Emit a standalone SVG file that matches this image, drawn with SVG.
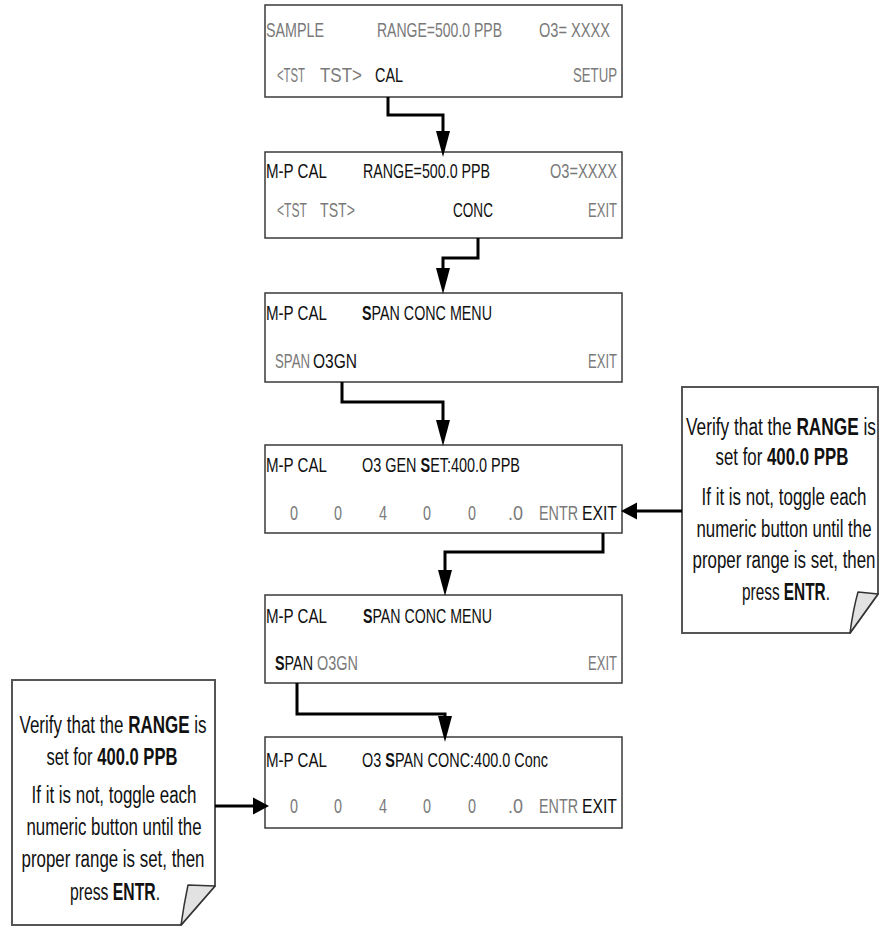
<svg xmlns="http://www.w3.org/2000/svg" width="879" height="927" viewBox="0 0 879 927">
<style>
  .scr { fill: #ffffff; stroke: #3a3a3a; stroke-width: 1.5; }
  .note { fill: #ffffff; stroke: #555555; stroke-width: 2; }
  .flap { fill: #e2e2e2; stroke: #333333; stroke-width: 1.5; stroke-linejoin: round; }
  text { font-family: "Liberation Sans", Arial, sans-serif; }
  .t { font-size: 21px; }
  .g { fill: #7a7a7a; }
  .k { fill: #111111; }
  .n { font-size: 23px; fill: #111111; text-anchor: middle; }
  .b { font-weight: bold; }
  .conn { fill: none; stroke: #000000; stroke-width: 3; stroke-linejoin: miter; }
</style>
<defs>
  <marker id="arrV" markerUnits="userSpaceOnUse" markerWidth="28" markerHeight="16" refX="0" refY="7" orient="auto" viewBox="0 0 28 14">
    <path d="M0,0 L26,7 L0,14 Z" fill="#000"/>
  </marker>
  <marker id="arrH" markerUnits="userSpaceOnUse" markerWidth="18" markerHeight="18" refX="0" refY="8.5" orient="auto" viewBox="0 0 18 17">
    <path d="M0,0 L16,8.5 L0,17 Z" fill="#000"/>
  </marker>
</defs>

<g id="screen-sample">
  <rect class="scr" x="265" y="5" width="357" height="92"/>
  <text class="t g" x="266" y="37" textLength="58" lengthAdjust="spacingAndGlyphs">SAMPLE</text>
  <text class="t g" x="377" y="37" textLength="125" lengthAdjust="spacingAndGlyphs">RANGE=500.0 PPB</text>
  <text class="t g" x="539" y="37" textLength="71" lengthAdjust="spacingAndGlyphs">O3= XXXX</text>
  <text class="t g" x="277" y="82" textLength="28" lengthAdjust="spacingAndGlyphs">&lt;TST</text>
  <text class="t g" x="320" y="82" textLength="42" lengthAdjust="spacingAndGlyphs">TST&gt;</text>
  <text class="t k" x="375" y="82" textLength="28" lengthAdjust="spacingAndGlyphs">CAL</text>
  <text class="t g" x="573" y="82" textLength="44" lengthAdjust="spacingAndGlyphs">SETUP</text>
</g>

<g id="screen-mpcal-range">
  <rect class="scr" x="265" y="152" width="357" height="86"/>
  <text class="t k" x="266" y="178" textLength="61" lengthAdjust="spacingAndGlyphs">M-P CAL</text>
  <text class="t k" x="363" y="178" textLength="127" lengthAdjust="spacingAndGlyphs">RANGE=500.0 PPB</text>
  <text class="t g" x="550" y="178" textLength="67" lengthAdjust="spacingAndGlyphs">O3=XXXX</text>
  <text class="t g" x="277" y="217" textLength="30" lengthAdjust="spacingAndGlyphs">&lt;TST</text>
  <text class="t g" x="320" y="217" textLength="35" lengthAdjust="spacingAndGlyphs">TST&gt;</text>
  <text class="t k" x="453" y="217" textLength="40" lengthAdjust="spacingAndGlyphs">CONC</text>
  <text class="t g" x="588" y="217" textLength="29" lengthAdjust="spacingAndGlyphs">EXIT</text>
</g>

<g id="screen-span-menu-1">
  <rect class="scr" x="265" y="293" width="357" height="89"/>
  <text class="t k" x="266" y="320" textLength="61" lengthAdjust="spacingAndGlyphs">M-P CAL</text>
  <text class="t k" x="362" y="320" textLength="130" lengthAdjust="spacingAndGlyphs"><tspan class="b">S</tspan>PAN CONC MENU</text>
  <text class="t g" x="275" y="368" textLength="35" lengthAdjust="spacingAndGlyphs">SPAN</text>
  <text class="t k" x="313" y="368" textLength="44" lengthAdjust="spacingAndGlyphs">O3GN</text>
  <text class="t g" x="588" y="368" textLength="29" lengthAdjust="spacingAndGlyphs">EXIT</text>
</g>

<g id="screen-o3-gen-set">
  <rect class="scr" x="265" y="445" width="357" height="88"/>
  <text class="t k" x="266" y="472" textLength="61" lengthAdjust="spacingAndGlyphs">M-P CAL</text>
  <text class="t k" x="362" y="472" textLength="158" lengthAdjust="spacingAndGlyphs">O3 GEN <tspan class="b">S</tspan>ET:400.0 PPB</text>
  <text class="t g" x="290" y="520" textLength="8" lengthAdjust="spacingAndGlyphs">0</text>
  <text class="t g" x="334" y="520" textLength="8" lengthAdjust="spacingAndGlyphs">0</text>
  <text class="t g" x="379" y="520" textLength="8" lengthAdjust="spacingAndGlyphs">4</text>
  <text class="t g" x="423" y="520" textLength="8" lengthAdjust="spacingAndGlyphs">0</text>
  <text class="t g" x="468" y="520" textLength="8" lengthAdjust="spacingAndGlyphs">0</text>
  <text class="t g" x="508" y="520" textLength="15" lengthAdjust="spacingAndGlyphs">.0</text>
  <text class="t g" x="539" y="520" textLength="39" lengthAdjust="spacingAndGlyphs">ENTR</text>
  <text class="t k" x="582" y="520" textLength="35" lengthAdjust="spacingAndGlyphs">EXIT</text>
</g>

<g id="screen-span-menu-2">
  <rect class="scr" x="265" y="595" width="357" height="88"/>
  <text class="t k" x="266" y="623" textLength="61" lengthAdjust="spacingAndGlyphs">M-P CAL</text>
  <text class="t k" x="363" y="623" textLength="129" lengthAdjust="spacingAndGlyphs"><tspan class="b">S</tspan>PAN CONC MENU</text>
  <text class="t k" x="275" y="670" textLength="38" lengthAdjust="spacingAndGlyphs"><tspan class="b">S</tspan>PAN</text>
  <text class="t g" x="317" y="670" textLength="41" lengthAdjust="spacingAndGlyphs">O3GN</text>
  <text class="t g" x="588" y="670" textLength="29" lengthAdjust="spacingAndGlyphs">EXIT</text>
</g>

<g id="screen-o3-span-conc">
  <rect class="scr" x="265" y="737" width="357" height="91"/>
  <text class="t k" x="266" y="767" textLength="61" lengthAdjust="spacingAndGlyphs">M-P CAL</text>
  <text class="t k" x="362" y="767" textLength="186" lengthAdjust="spacingAndGlyphs">O3 <tspan class="b">S</tspan>PAN CONC:400.0 Conc</text>
  <text class="t g" x="290" y="813" textLength="8" lengthAdjust="spacingAndGlyphs">0</text>
  <text class="t g" x="334" y="813" textLength="8" lengthAdjust="spacingAndGlyphs">0</text>
  <text class="t g" x="379" y="813" textLength="8" lengthAdjust="spacingAndGlyphs">4</text>
  <text class="t g" x="423" y="813" textLength="8" lengthAdjust="spacingAndGlyphs">0</text>
  <text class="t g" x="468" y="813" textLength="8" lengthAdjust="spacingAndGlyphs">0</text>
  <text class="t g" x="508" y="813" textLength="15" lengthAdjust="spacingAndGlyphs">.0</text>
  <text class="t g" x="539" y="813" textLength="39" lengthAdjust="spacingAndGlyphs">ENTR</text>
  <text class="t k" x="582" y="813" textLength="35" lengthAdjust="spacingAndGlyphs">EXIT</text>
</g>

<g id="note-right">
  <path class="note" d="M682,387 H878 V594 L850,633 H682 Z"/>
  <path class="flap" d="M858,592 L878,594 L850,633 Q853,610 858,592 Z"/>
  <text class="n" x="781" y="435" textLength="190" lengthAdjust="spacingAndGlyphs">Verify that the <tspan class="b">RANGE</tspan> is</text>
  <text class="n" x="782" y="465" textLength="133" lengthAdjust="spacingAndGlyphs">set for <tspan class="b">400.0 PPB</tspan></text>
  <text class="n" x="784" y="505" textLength="165" lengthAdjust="spacingAndGlyphs">If it is not, toggle each</text>
  <text class="n" x="784" y="537" textLength="175" lengthAdjust="spacingAndGlyphs">numeric button until the</text>
  <text class="n" x="784" y="568" textLength="183" lengthAdjust="spacingAndGlyphs">proper range is set, then</text>
  <text class="n" x="786" y="600" textLength="88" lengthAdjust="spacingAndGlyphs">press <tspan class="b">ENTR</tspan>.</text>
</g>

<g id="note-left">
  <path class="note" d="M12,680 H215 V886 L181,925 H12 Z"/>
  <path class="flap" d="M188,885 L215,886 L181,925 Q184,904 188,885 Z"/>
  <text class="n" x="113" y="733" textLength="187" lengthAdjust="spacingAndGlyphs">Verify that the <tspan class="b">RANGE</tspan> is</text>
  <text class="n" x="112" y="765" textLength="131" lengthAdjust="spacingAndGlyphs">set for <tspan class="b">400.0 PPB</tspan></text>
  <text class="n" x="114" y="803" textLength="165" lengthAdjust="spacingAndGlyphs">If it is not, toggle each</text>
  <text class="n" x="114" y="835" textLength="175" lengthAdjust="spacingAndGlyphs">numeric button until the</text>
  <text class="n" x="113" y="867" textLength="183" lengthAdjust="spacingAndGlyphs">proper range is set, then</text>
  <text class="n" x="115" y="900" textLength="90" lengthAdjust="spacingAndGlyphs">press <tspan class="b">ENTR</tspan>.</text>
</g>

<g id="connectors">
  <path class="conn" d="M388,97 V115 H443 V131" marker-end="url(#arrV)"/>
  <path class="conn" d="M478,238 V258 H443 V268" marker-end="url(#arrV)"/>
  <path class="conn" d="M342,382 V402 H443 V420" marker-end="url(#arrV)"/>
  <path class="conn" d="M603,533 V552 H445 V570" marker-end="url(#arrV)"/>
  <path class="conn" d="M297,683 V714 H445 V716" marker-end="url(#arrV)"/>
  <path class="conn" d="M682,511 H637" marker-end="url(#arrH)"/>
  <path class="conn" d="M215,806 H253" marker-end="url(#arrH)"/>
</g>
</svg>
